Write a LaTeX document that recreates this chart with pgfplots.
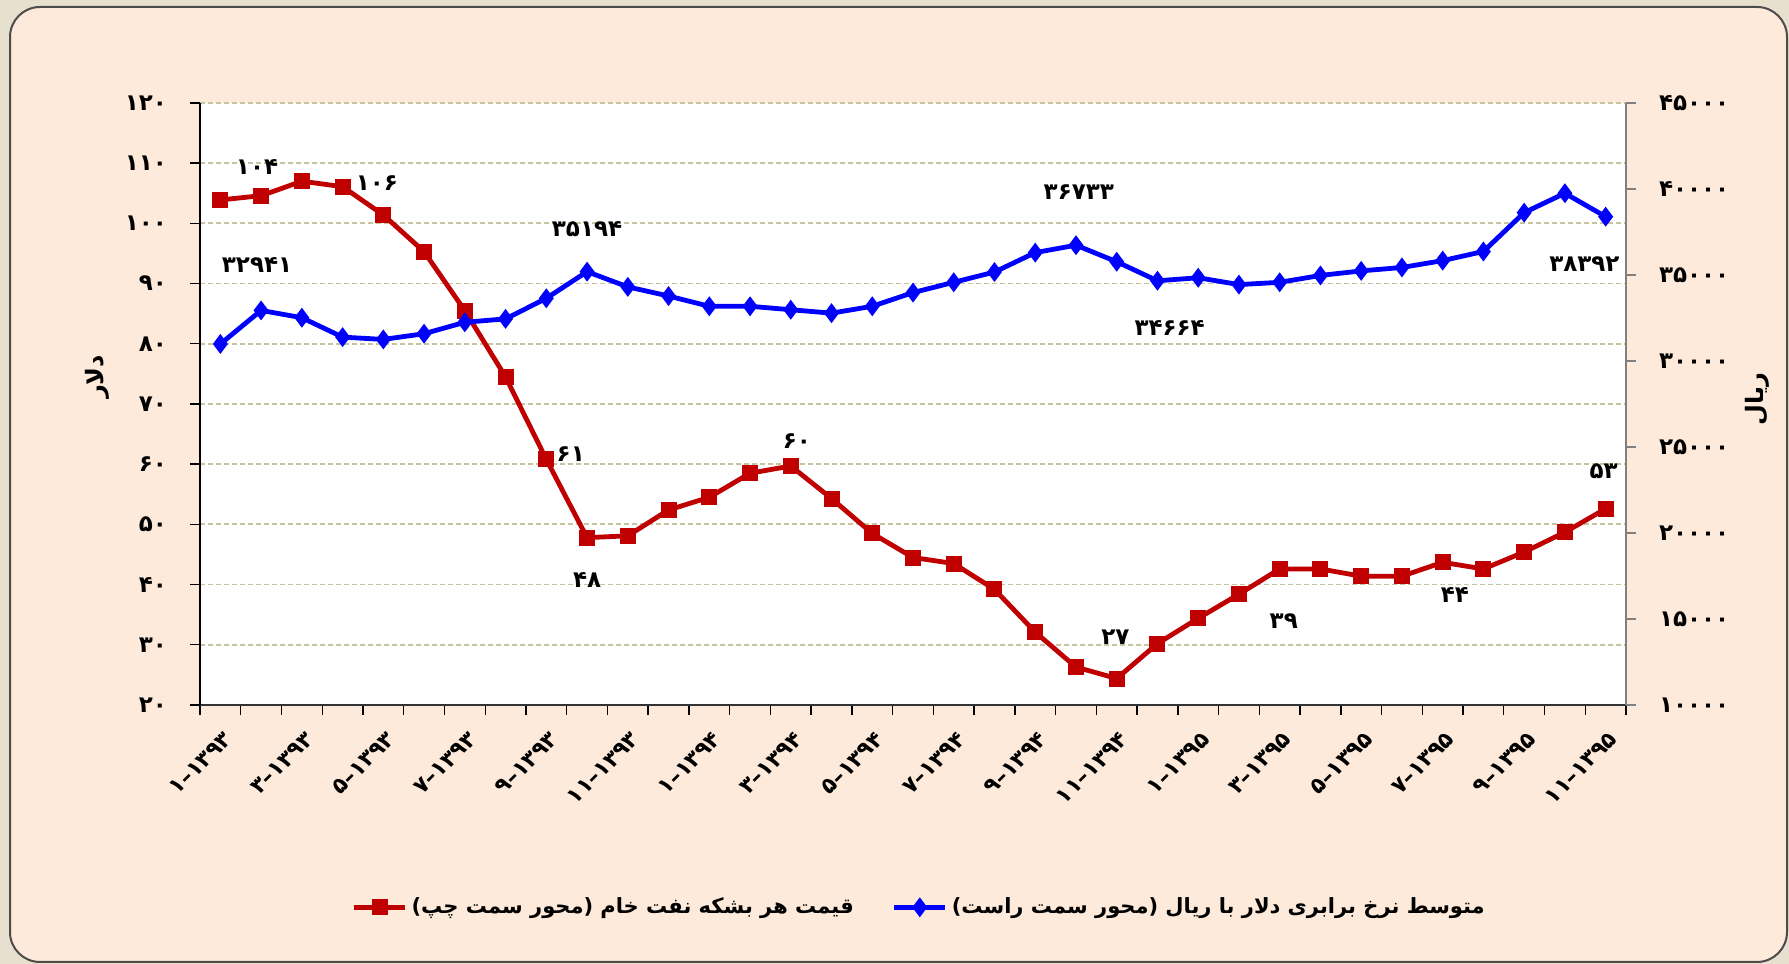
\documentclass[border=0pt]{standalone}
\usepackage{fontspec}
\usepackage{pgfplots}
\pgfplotsset{compat=1.18}
\TeXXeTstate=1
\newfontfamily\fa[Script=Arabic]{DejaVu Sans}
\definecolor{peach}{RGB}{253,234,218}
\definecolor{outbg}{RGB}{232,224,206}
\definecolor{gridc}{RGB}{200,196,160}
\definecolor{oilred}{RGB}{192,0,0}
\definecolor{rialblue}{RGB}{0,0,255}
% month-year label: pieces kept apart so they run left to right
\newcommand\my[2]{\beginL#1\kern0pt–\kern0pt#2\endL}

\begin{document}
\begin{tikzpicture}
\fill[outbg] (0,0) rectangle (894.5pt,482pt);
\draw[fill=peach, draw=black!70, line width=1pt, rounded corners=15pt] (5pt,1pt) rectangle (893.5pt,478.5pt);

\begin{axis}[
  at={(100pt,129.5pt)}, anchor=south west,
  width=713pt, height=301pt, scale only axis,
  xmin=0.5, xmax=35.5, ymin=20, ymax=120,
  axis lines*=left,
  axis background/.style={fill=white},
  axis line style={black, line width=0.8pt},
  x axis line style={line width=1.3pt, draw=black!80},
  tick align=outside, major tick length=5pt, minor tick length=5pt,
  tick style={black, line width=0.7pt},
  ytick={20,30,...,120},
  yticklabels={۲۰,۳۰,۴۰,۵۰,۶۰,۷۰,۸۰,۹۰,۱۰۰,۱۱۰,۱۲۰},
  yticklabel style={font=\fa\bfseries\fontsize{11.5}{13}\selectfont, xshift=-8pt},
  xtick={1,3,...,35},
  xticklabels={\my{۱}{۱۳۹۳},\my{۳}{۱۳۹۳},\my{۵}{۱۳۹۳},\my{۷}{۱۳۹۳},\my{۹}{۱۳۹۳},\my{۱۱}{۱۳۹۳},
               \my{۱}{۱۳۹۴},\my{۳}{۱۳۹۴},\my{۵}{۱۳۹۴},\my{۷}{۱۳۹۴},\my{۹}{۱۳۹۴},\my{۱۱}{۱۳۹۴},
               \my{۱}{۱۳۹۵},\my{۳}{۱۳۹۵},\my{۵}{۱۳۹۵},\my{۷}{۱۳۹۵},\my{۹}{۱۳۹۵},\my{۱۱}{۱۳۹۵}},
  major x tick style={draw=none},
  minor xtick={0.5,1.5,...,35.5},
  xticklabel style={font=\fa\bfseries\fontsize{11}{13}\selectfont, rotate=45, anchor=east, yshift=-10pt, xshift=-1pt},
  ymajorgrids,
  grid style={gridc, line width=0.9pt, dash pattern=on 2.5pt off 1.5pt},
]
\addplot[oilred, line width=2.4pt, mark=square*, mark size=2.8pt] coordinates {
  (1,103.9) (2,104.6) (3,107.0) (4,106.1) (5,101.4) (6,95.3) (7,85.5) (8,74.5)
  (9,60.8) (10,47.8) (11,48.1) (12,52.4) (13,54.5) (14,58.5) (15,59.7) (16,54.3)
  (17,48.5) (18,44.5) (19,43.5) (20,39.2) (21,32.1) (22,26.3) (23,24.4) (24,30.2)
  (25,34.4) (26,38.4) (27,42.6) (28,42.6) (29,41.4) (30,41.4) (31,43.7) (32,42.6)
  (33,45.4) (34,48.7) (35,52.6)};
\begin{scope}[every node/.style={font=\fa\bfseries\fontsize{11.5}{13}\selectfont}]
\node at (axis cs:1.9,109.4) {۱۰۴};
\node at (axis cs:4.84,106.7) {۱۰۶};
\node at (axis cs:9.6,61.6) {۶۱};
\node at (axis cs:10.0,40.7) {۴۸};
\node at (axis cs:15.15,63.8) {۶۰};
\node at (axis cs:22.97,31.2) {۲۷};
\node at (axis cs:27.1,34.0) {۳۹};
\node at (axis cs:31.3,38.2) {۴۴};
\node at (axis cs:34.95,58.9) {۵۳};
\end{scope}
\end{axis}

\begin{axis}[
  at={(100pt,129.5pt)}, anchor=south west,
  width=713pt, height=301pt, scale only axis,
  xmin=0.5, xmax=35.5, ymin=10000, ymax=45000,
  axis x line=none, axis y line*=right,
  y axis line style={draw=gray, line width=0.7pt},
  tick align=outside, major tick length=5pt,
  tick style={gray, line width=0.7pt},
  scaled y ticks=false,
  ytick={10000,15000,...,45000},
  yticklabels={۱۰۰۰۰,۱۵۰۰۰,۲۰۰۰۰,۲۵۰۰۰,۳۰۰۰۰,۳۵۰۰۰,۴۰۰۰۰,۴۵۰۰۰},
  yticklabel style={font=\fa\bfseries\fontsize{11.5}{13}\selectfont, xshift=8pt},
  legend columns=2,
  legend style={at={(0.505,-0.336)}, anchor=center, draw=none, fill=none,
    font=\fa\bfseries\fontsize{10.5}{13}\selectfont,
    /tikz/every even column/.append style={column sep=17pt}},
  legend image code/.code={\draw[mark repeat=2, mark phase=2, #1]
    plot coordinates {(0cm,0cm) (0.45cm,0cm) (0.9cm,0cm)};},
]
\addlegendimage{oilred, line width=2.4pt, mark=square*, mark size=2.8pt}
\addlegendentry{\beginR قیمت هر بشکه نفت خام (محور سمت چپ)\endR}
\addplot[rialblue, line width=2.4pt, mark=diamond*, mark size=3pt] coordinates {
  (1,30990) (2,32941) (3,32517) (4,31388) (5,31255) (6,31587) (7,32251) (8,32450)
  (9,33645) (10,35194) (11,34310) (12,33778) (13,33181) (14,33181) (15,32982) (16,32782)
  (17,33181) (18,33978) (19,34575) (20,35173) (21,36302) (22,36733) (23,35770) (24,34664)
  (25,34841) (26,34442) (27,34575) (28,34974) (29,35239) (30,35438) (31,35837) (32,36368)
  (33,38626) (34,39754) (35,38392)};
\addlegendentry{\beginR متوسط نرخ برابری دلار با ریال (محور سمت راست)\endR}
\begin{scope}[every node/.style={font=\fa\bfseries\fontsize{11.5}{13}\selectfont}]
\node at (axis cs:1.9,35571) {۳۲۹۴۱};
\node at (axis cs:10.0,37696) {۳۵۱۹۴};
\node at (axis cs:22.07,39821) {۳۶۷۳۳};
\node at (axis cs:24.3,31919) {۳۴۶۶۴};
\node at (axis cs:34.48,35638) {۳۸۳۹۲};
\end{scope}
\end{axis}

\node[rotate=90, font=\fa\bfseries\fontsize{12}{14}\selectfont] at (48.5pt,293.5pt) {دلار};
\node[rotate=90, font=\fa\bfseries\fontsize{12}{14}\selectfont] at (878.5pt,282.5pt) {ریال};
\end{tikzpicture}
\end{document}
